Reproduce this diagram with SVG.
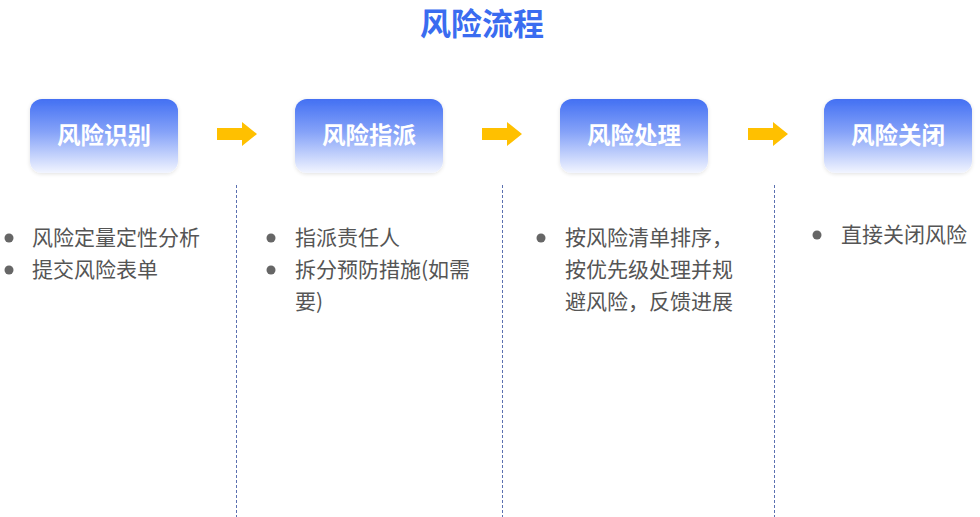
<svg xmlns="http://www.w3.org/2000/svg" width="980" height="517" viewBox="0 0 980 517">
<defs>
<linearGradient id="g" x1="0" y1="0" x2="0" y2="1">
<stop offset="0" stop-color="#4370f3"/>
<stop offset="0.45" stop-color="#86a3f8"/>
<stop offset="1" stop-color="#f2f5ff"/>
</linearGradient>
<filter id="sh" x="-20%" y="-20%" width="140%" height="140%">
<feGaussianBlur in="SourceAlpha" stdDeviation="2"/>
<feOffset dy="1"/>
<feComponentTransfer><feFuncA type="linear" slope="0.12"/></feComponentTransfer>
<feMerge><feMergeNode/><feMergeNode in="SourceGraphic"/></feMerge>
</filter>
</defs>
<style>
.box{fill:url(#g);filter:url(#sh)}
.bl{font-family:"Noto Sans CJK SC","Liberation Sans",sans-serif;font-weight:bold;font-size:23.5px;fill:#ffffff;text-anchor:middle}
.t{font-family:"Noto Sans CJK SC","Liberation Sans",sans-serif;font-size:21px;fill:#555555}
.dot{fill:#666666}
.arr{fill:#ffc000}
.dl{stroke:#5b70b0;stroke-width:1;stroke-dasharray:3,2;fill:none}
.title{font-family:"Noto Sans CJK SC","Liberation Sans",sans-serif;font-weight:bold;font-size:31px;fill:#3a6cf0;text-anchor:middle}
</style>
<rect width="980" height="517" fill="#ffffff"/>
<text class="title" x="482" y="35">风险流程</text>
<g id="connectors">
<polygon class="arr" points="217,128 242,128 242,122 257,134 242,146 242,140 217,140"/>
<polygon class="arr" points="482,128 507,128 507,122 522,134 507,146 507,140 482,140"/>
<polygon class="arr" points="748,128 773,128 773,122 788,134 773,146 773,140 748,140"/>
<line class="dl" x1="236.5" y1="185" x2="236.5" y2="517"/>
<line class="dl" x1="502.5" y1="185" x2="502.5" y2="517"/>
<line class="dl" x1="774.5" y1="185" x2="774.5" y2="517"/>
</g>
<g id="node1">
<rect class="box" x="30" y="99" width="148" height="74" rx="12"/>
<text class="bl" x="104" y="144">风险识别</text>
<circle class="dot" cx="9" cy="238" r="4.5"/>
<text class="t" x="32" y="245">风险定量定性分析</text>
<circle class="dot" cx="9" cy="270" r="4.5"/>
<text class="t" x="32" y="277">提交风险表单</text>
</g>
<g id="node2">
<rect class="box" x="295" y="99" width="148" height="74" rx="12"/>
<text class="bl" x="369" y="144">风险指派</text>
<circle class="dot" cx="271" cy="238" r="4.5"/>
<text class="t" x="295" y="245">指派责任人</text>
<circle class="dot" cx="271" cy="270" r="4.5"/>
<text class="t" x="295" y="277">拆分预防措施(如需</text>
<text class="t" x="295" y="309">要)</text>
</g>
<g id="node3">
<rect class="box" x="560" y="99" width="148" height="74" rx="12"/>
<text class="bl" x="634" y="144">风险处理</text>
<circle class="dot" cx="541" cy="238" r="4.5"/>
<text class="t" x="565" y="245">按风险清单排序，</text>
<text class="t" x="565" y="277">按优先级处理并规</text>
<text class="t" x="565" y="309">避风险，反馈进展</text>
</g>
<g id="node4">
<rect class="box" x="824" y="99" width="148" height="74" rx="12"/>
<text class="bl" x="898" y="144">风险关闭</text>
<circle class="dot" cx="817" cy="235" r="4.5"/>
<text class="t" x="841" y="242">直接关闭风险</text>
</g>
</svg>
